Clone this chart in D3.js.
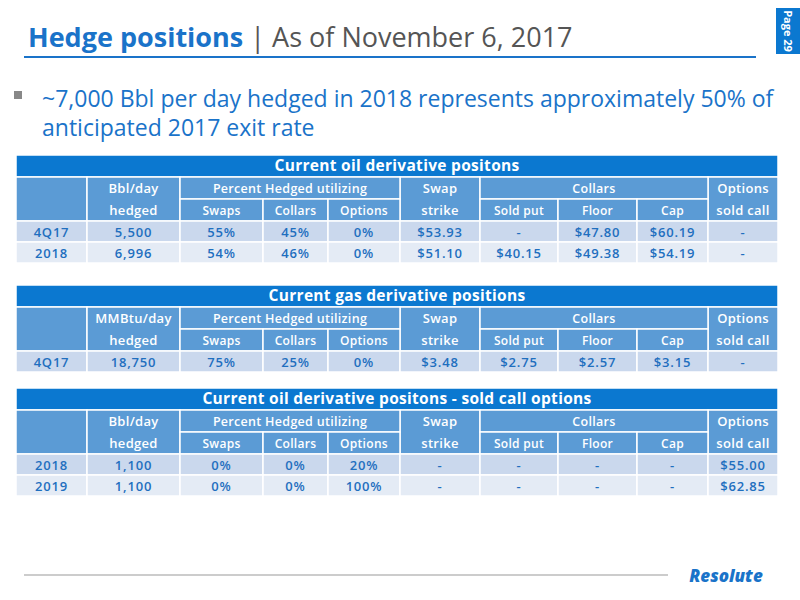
<!DOCTYPE html>
<html><head><meta charset="utf-8">
<script src="https://cdn.jsdelivr.net/npm/d3@7"></script>
<style>body{margin:0;background:#fff}svg{display:block;font-family:"Open Sans",sans-serif}</style>
</head><body><svg id="s" width="800" height="600"></svg>
<script>
const colEdges=[16,87,180,263,328,400,480,558,637,708,778];
const subHeaders=["Swaps","Collars","Options","Sold put","Floor","Cap"];
const oilTitle="Current oil derivative positons";
const oilRows=[["4Q17","5,500","55%","45%","0%","$53.93","-","$47.80","$60.19","-"],
               ["2018","6,996","54%","46%","0%","$51.10","$40.15","$49.38","$54.19","-"]];
const gasTitle="Current gas derivative positions";
const gasRows=[["4Q17","18,750","75%","25%","0%","$3.48","$2.75","$2.57","$3.15","-"]];
const callTitle="Current oil derivative positons - sold call options";
const callRows=[["2018","1,100","0%","0%","20%","-","-","-","-","$55.00"],
                ["2019","1,100","0%","0%","100%","-","-","-","-","$62.85"]];
const tables=[{title:oilTitle,unit:["Bbl/day","hedged"],rows:oilRows,y:155},
              {title:gasTitle,unit:["MMBtu/day","hedged"],rows:gasRows,y:285},
              {title:callTitle,unit:["Bbl/day","hedged"],rows:callRows,y:388}];
const svg=d3.select("#s");
const blue="#0b78d0",hdr="#5b9bd5",txt="#1f6fbf";
svg.append("text").attr("x",28).attr("y",47).attr("font-size",27).attr("fill","#1a73c9")
 .html('<tspan font-weight="bold">Hedge positions</tspan><tspan fill="#555"> | As of November 6, 2017</tspan>');
svg.append("line").attr("x1",24).attr("x2",756).attr("y1",57).attr("y2",57).attr("stroke","#1a73c9").attr("stroke-width",2);
svg.append("rect").attr("x",776).attr("y",8).attr("width",24).attr("height",46).attr("fill",blue);
svg.append("text").attr("transform","translate(784,31) rotate(90)").attr("text-anchor","middle").attr("font-size",11).attr("font-weight","bold").attr("fill","#fff").text("Page 29");
svg.append("rect").attr("x",14).attr("y",91).attr("width",8).attr("height",8).attr("fill","#888");
svg.append("text").attr("x",42).attr("y",107).attr("font-size",23).attr("fill","#1a73c9").text("~7,000 Bbl per day hedged in 2018 represents approximately 50% of");
svg.append("text").attr("x",42).attr("y",136).attr("font-size",23).attr("fill","#1a73c9").text("anticipated 2017 exit rate");
svg.append("line").attr("x1",24).attr("x2",668).attr("y1",575).attr("y2",575).attr("stroke","#999");
svg.append("text").attr("x",726).attr("y",582).attr("text-anchor","middle").attr("font-size",17).attr("font-weight","800").attr("font-style","italic").attr("fill","#1a73c9").text("Resolute");
const x=i=>colEdges[i];
tables.forEach(t=>{
  const g=svg.append("g"); const y0=t.y, H=22;
  const lab=(cx,y,s,color,w,size,ls)=>g.append("text").attr("x",cx).attr("y",y).attr("text-anchor","middle").attr("font-size",size).attr("font-weight",w).attr("letter-spacing",ls||0).attr("fill",color).text(s);
  const cell=(x0,x1,y,h,fill,label,color,w,size,ls)=>{
    g.append("rect").attr("x",x0).attr("y",y).attr("width",x1-x0).attr("height",h).attr("fill",fill).attr("stroke","#fff").attr("stroke-width",1.5);
    if(label!=null) lab((x0+x1)/2,y+h/2+5,label,color,w,size,ls);
  };
  cell(x(0),x(10),y0,H,blue,t.title,"#fff","bold",15.5,0.3);
  const y1=y0+H, y2=y1+H;
  [[0,1],[1,2],[5,6],[9,10]].forEach(([a,b])=>cell(x(a),x(b),y1,2*H,hdr,null));
  const two=(a,b,l1,l2)=>{lab((x(a)+x(b))/2,y1+16,l1,"#fff","600",13,0.3);lab((x(a)+x(b))/2,y2+16,l2,"#fff","600",13,0.3);};
  two(1,2,t.unit[0],t.unit[1]); two(5,6,"Swap","strike"); two(9,10,"Options","sold call");
  cell(x(2),x(5),y1,H,hdr,"Percent Hedged utilizing","#fff","600",12.5,0.3);
  cell(x(6),x(9),y1,H,hdr,"Collars","#fff","600",12.5,0.3);
  const subIdx=[2,3,4,6,7,8];
  subHeaders.forEach((s,k)=>cell(x(subIdx[k]),x(subIdx[k]+1),y2,H,hdr,s,"#fff","600",12,0.3));
  t.rows.forEach((r,ri)=>{
    const yr=y2+H+ri*21;
    r.forEach((v,ci)=>cell(x(ci),x(ci+1),yr,21,ri%2?"#e4ebf5":"#cad8ed",v,txt,"600",13,0.8));
  });
});
</script></body></html>
